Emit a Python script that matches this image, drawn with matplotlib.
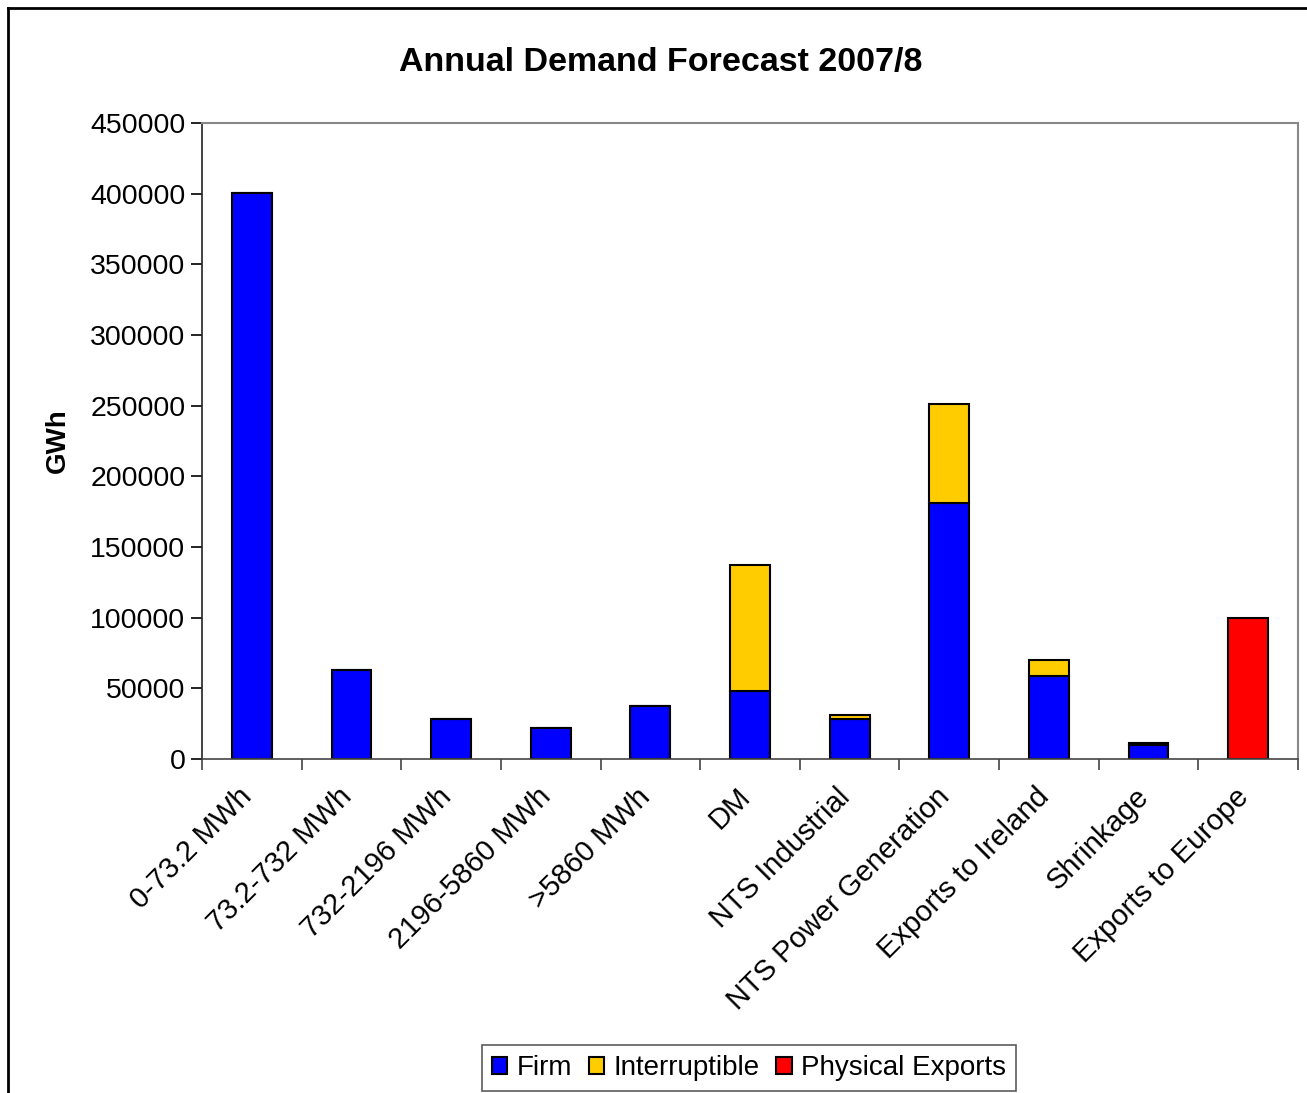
import matplotlib.pyplot as plt
import matplotlib.transforms as mtransforms
from matplotlib.lines import Line2D
import numpy as np

plt.rcParams['font.family'] = ['Liberation Sans', 'DejaVu Sans']

# -----------------
# DATA (GWh)
# -----------------
categories = ['0-73.2 MWh', '73.2-732 MWh', '732-2196 MWh', '2196-5860 MWh',
              '>5860 MWh', 'DM', 'NTS Industrial', 'NTS Power Generation',
              'Exports to Ireland', 'Shrinkage', 'Exports to Europe']
firm = [400500, 63000, 28500, 22000, 37500, 48000, 28000, 181000, 58500, 10000, 0]
interruptible = [0, 0, 0, 0, 0, 89500, 3000, 70500, 11500, 1500, 0]
physical_exports = [0, 0, 0, 0, 0, 0, 0, 0, 0, 0, 100000]

W, H = 1307, 1093
fig = plt.figure(figsize=(W / 100, H / 100), dpi=100)
ax = fig.add_axes([202 / W, 1 - 759 / H, (1298 - 202) / W, (759 - 123) / H])

x = np.arange(len(categories))
bw = 0.4
firm = np.array(firm)
interruptible = np.array(interruptible)
ax.bar(x, firm, bw, color='#0000FF', edgecolor='black', linewidth=1.5, label='Firm')
ax.bar(x, interruptible, bw, bottom=firm, color='#FFCC00', edgecolor='black',
       linewidth=1.5, label='Interruptible')
ax.bar(x, physical_exports, bw, color='#FF0000', edgecolor='black', linewidth=1.5,
       label='Physical Exports')

ax.set_xlim(-0.5, len(categories) - 0.5)
ax.set_ylim(0, 450000)
ax.set_yticks(np.arange(0, 450001, 50000))
ax.tick_params(axis='y', labelsize=20.5, length=8, width=1.2, pad=4)

# category ticks sit between the bars
ax.set_xticks(np.arange(-0.5, len(categories) + 0.5, 1))
ax.set_xticklabels([])
ax.tick_params(axis='x', length=8, width=1.2, color='#444444')
ax.set_xticks(x, minor=True)
ax.set_xticklabels(categories, minor=True, rotation=45, ha='right',
                   va='top', rotation_mode='anchor', fontsize=21)
ax.tick_params(axis='x', which='minor', length=0, pad=17)
shift = mtransforms.ScaledTranslation(-14 / 100, 0, fig.dpi_scale_trans)
for lbl in ax.get_xticklabels(minor=True):
    lbl.set_transform(lbl.get_transform() + shift)

for s in ['top', 'right']:
    ax.spines[s].set_color('#888888')
    ax.spines[s].set_linewidth(1.5)
ax.spines['left'].set_color('#222222')
ax.spines['bottom'].set_color('#444444')
ax.spines['left'].set_linewidth(1.2)
ax.spines['bottom'].set_linewidth(1.2)

ax.set_ylabel('GWh', fontsize=20, fontweight='bold', labelpad=14)
fig.text(661 / W, 1 - 62 / H, 'Annual Demand Forecast 2007/8', ha='center',
         va='center', fontsize=24.5, fontweight='bold')

leg = fig.legend(loc='center', bbox_to_anchor=(749 / W, 1 - 1068 / H), ncol=3,
                 fontsize=20, frameon=True, fancybox=False, handlelength=0.55,
                 handleheight=0.55, handletextpad=0.35, columnspacing=0.6,
                 borderpad=0.35, borderaxespad=0)
leg.get_frame().set_edgecolor('#333333')
leg.get_frame().set_linewidth(1.2)

# outer chart frame (left and top edges)
fig.add_artist(Line2D([8 / W, 8 / W], [0, 1 - 8 / H], color='black', linewidth=2))
fig.add_artist(Line2D([8 / W, 1], [1 - 8 / H, 1 - 8 / H], color='black', linewidth=2))

fig.savefig('out.png', dpi=100)
